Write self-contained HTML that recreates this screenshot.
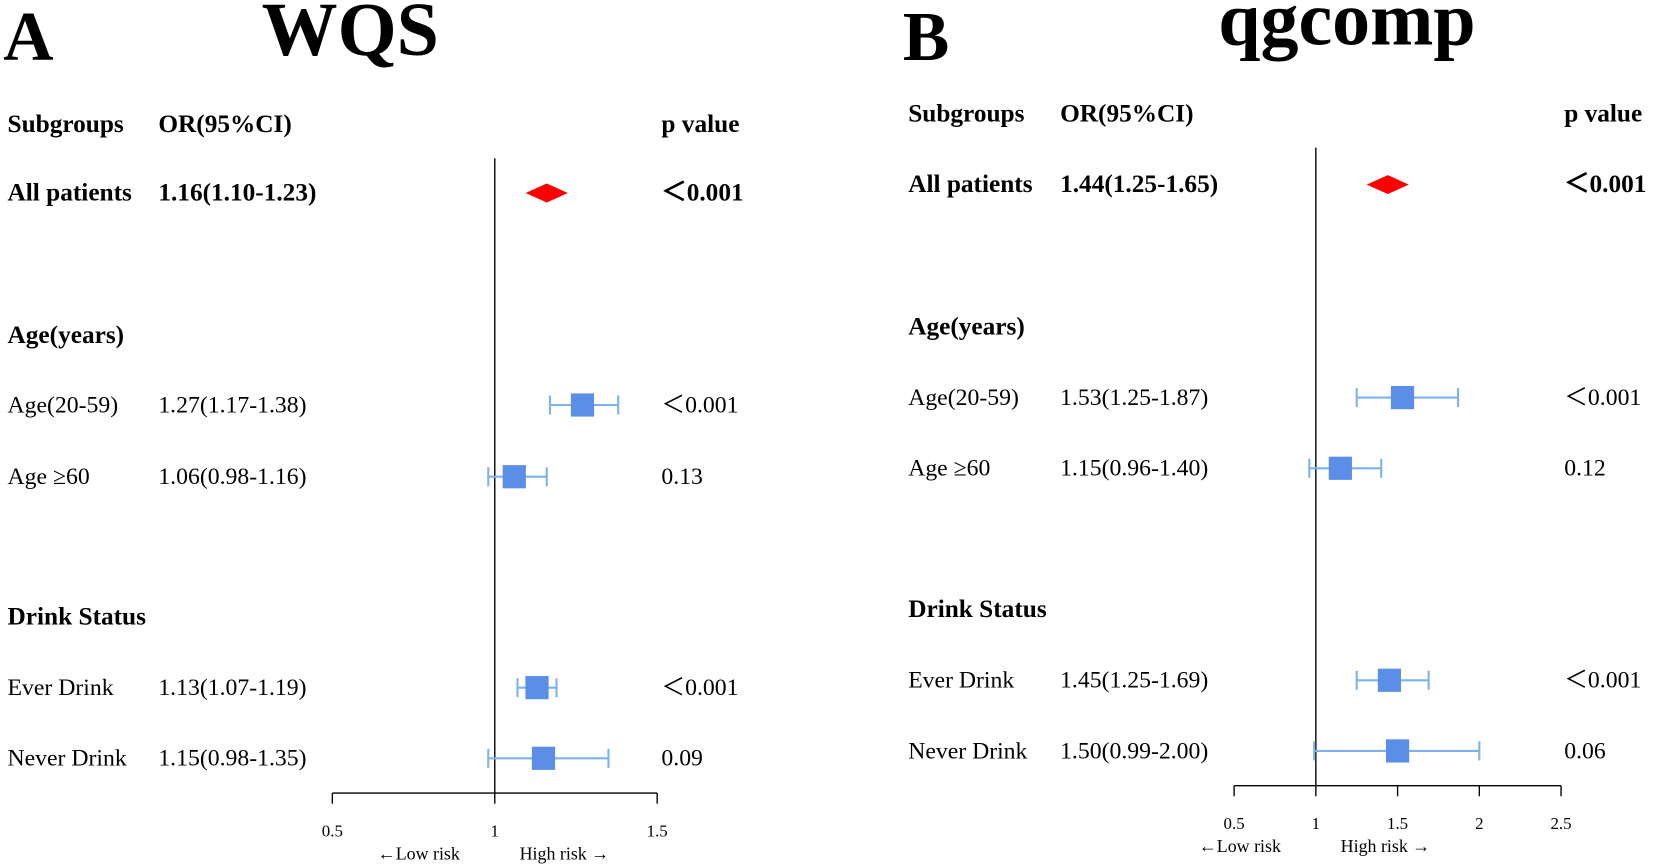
<!DOCTYPE html>
<html><head><meta charset="utf-8"><style>
html,body{margin:0;padding:0;background:#fff;}
svg{display:block;}
text{font-family:"Liberation Serif",serif;fill:#000;}
.h{font-weight:bold;font-size:24px;}
.r{font-size:22.5px;}
.t{font-size:16px;}
.lr{font-size:17px;}
</style></head><body>
<svg id="chart" width="1654" height="868" viewBox="0 0 1568 823" xmlns="http://www.w3.org/2000/svg">
<text x="3" y="57" style="font-weight:bold;font-size:66px">A</text>
<text x="332" y="52" text-anchor="middle" style="font-weight:bold;font-size:72px">WQS</text>
<text x="856" y="57" style="font-weight:bold;font-size:66px">B</text>
<text x="1277" y="42" text-anchor="middle" style="font-weight:bold;font-size:72px">qgcomp</text>
<g id="pa"></g><g id="pb"></g>
</svg>
<script>
const rowLabels = ["All patients","Age(years)","Age(20-59)","Age \u226560","Drink Status","Ever Drink","Never Drink"];
const rowBold = [true,true,false,false,true,false,false];
const orA = [1.16,null,1.27,1.06,null,1.13,1.15];
const loA = [1.10,null,1.17,0.98,null,1.07,0.98];
const hiA = [1.23,null,1.38,1.16,null,1.19,1.35];
const pA = ["<0.001","","<0.001","0.13","","<0.001","0.09"];
const ticksA = [0.5,1,1.5];
const orB = [1.44,null,1.53,1.15,null,1.45,1.50];
const loB = [1.25,null,1.25,0.96,null,1.25,0.99];
const hiB = [1.65,null,1.87,1.40,null,1.69,2.00];
const pB = ["<0.001","","<0.001","0.12","","<0.001","0.06"];
const ticksB = [0.5,1,1.5,2,2.5];
const NS="http://www.w3.org/2000/svg";
function mk(p,tag,attrs,txt){const e=document.createElementNS(NS,tag);for(const k in attrs)e.setAttribute(k,attrs[k]);if(txt!==undefined)e.textContent=txt;p.appendChild(e);return e;}
function fmt(v){return v.toFixed(2);}
function panel(g,cfg,or,lo,hi,p,ticks,pref){
  const x=v=>cfg.x0+(v-ticks[0])/(ticks[ticks.length-1]-ticks[0])*(cfg.x1-cfg.x0);
  const rowY=i=>cfg.rows[i];
  let e;
  e=mk(g,'text',{x:cfg.lx,y:cfg.hy,class:'h'},'Subgroups');
  
  
  e=mk(g,'text',{x:cfg.ox,y:cfg.hy,class:'h'},'OR(95%CI)');
  
  
  e=mk(g,'text',{x:cfg.px,y:cfg.hy,class:'h'},'p value');
  
  
  e=mk(g,'line',{x1:x(1),x2:x(1),y1:cfg.vTop,y2:cfg.ay,stroke:'#000','stroke-width':1.3});
  
  
  e=mk(g,'line',{x1:x(ticks[0]),x2:x(ticks[ticks.length-1]),y1:cfg.ay,y2:cfg.ay,stroke:'#000','stroke-width':1.3});
  
  
  ticks.forEach(t=>{
    e=mk(g,'line',{x1:x(t),x2:x(t),y1:cfg.ay,y2:cfg.ay+10,stroke:'#000','stroke-width':1.3});
    
    
    e=mk(g,'text',{x:x(t),y:cfg.ay+41,'text-anchor':'middle',class:'t'},String(t));
    
    
  });
  e=mk(g,'text',{x:x(1)-72,y:cfg.ay+63,'text-anchor':'middle',class:'lr'},'\u2190Low risk');
  
  
  e=mk(g,'text',{x:x(1)+66,y:cfg.ay+63,'text-anchor':'middle',class:'lr'},'High risk \u2192');
  
  
  rowLabels.forEach((lab,i)=>{
    const y=rowY(i)+7, cls=rowBold[i]?'h':'r';
    e=mk(g,'text',{x:cfg.lx,y:y,class:cls},lab);
    
    
    if(or[i]==null) return;
    e=mk(g,'text',{x:cfg.ox,y:y,class:cls},fmt(or[i])+'('+fmt(lo[i])+'-'+fmt(hi[i])+')');
    
    
    e=mk(g,'text',{x:cfg.px,y:y,class:cls},p[i].replace('<','\uFF1C'));
    
    
    const cy=rowY(i);
    if(i===0){
      const cx=x(or[i]);
      e=mk(g,'polygon',{points:`${cx-20},${cy} ${cx},${cy-9} ${cx+20},${cy} ${cx},${cy+9}`,fill:'#ff0000'});
      
      
    } else {
      const c='#7fb2ea';
      e=mk(g,'line',{x1:x(lo[i]),x2:x(hi[i]),y1:cy,y2:cy,stroke:c,'stroke-width':2});
      
      
      [lo[i],hi[i]].forEach(v=>{
        e=mk(g,'line',{x1:x(v),x2:x(v),y1:cy-9,y2:cy+9,stroke:c,'stroke-width':2});
        
        
      });
      e=mk(g,'rect',{x:x(or[i])-11,y:cy-11,width:22,height:22,fill:'#5b8ee6'});
      
      
    }
  });
}
panel(document.getElementById('pa'),{x0:315,x1:623,ay:752,vTop:150,lx:7,ox:150,px:627,hy:125,rows:[183,318,384,452,585,652,719]},orA,loA,hiA,pA,ticksA,'wqs');
panel(document.getElementById('pb'),{x0:1170,x1:1480,ay:745,vTop:140,lx:861,ox:1005,px:1483,hy:115,rows:[175,310,377,444,578,645,712]},orB,loB,hiB,pB,ticksB,'qgcomp');
</script>
</body></html>
